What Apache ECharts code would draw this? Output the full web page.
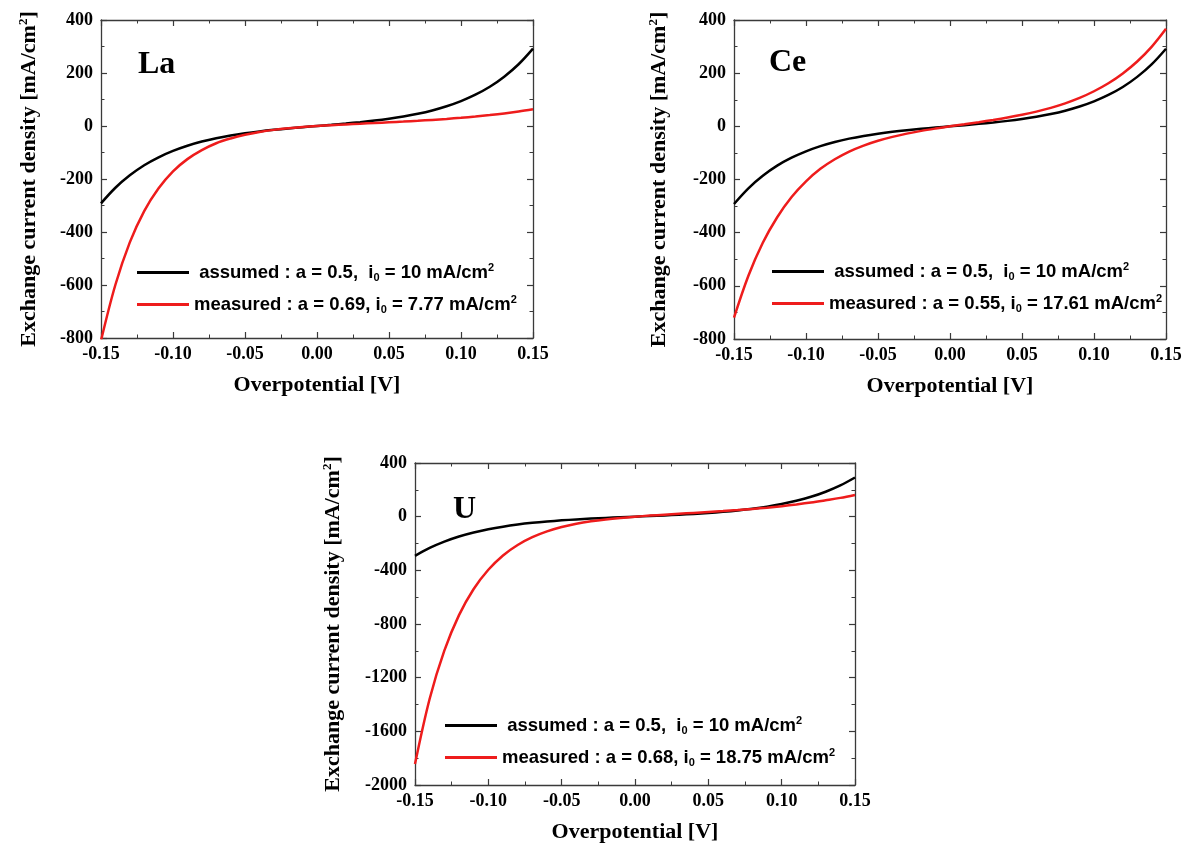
<!DOCTYPE html>
<html>
<head>
<meta charset="utf-8">
<script src="https://cdn.jsdelivr.net/npm/echarts@6/dist/echarts.min.js"></script>
<style>
html,body{margin:0;padding:0;background:#fff;}
#chart{width:1184px;height:847px;}
</style>
</head>
<body>
<div id="chart"></div>
<script>
// ---- data ----
const overpotential = [-0.15,-0.14,-0.13,-0.12,-0.11,-0.10,-0.09,-0.08,-0.07,-0.06,-0.05,-0.04,-0.03,-0.02,-0.01,0.00,0.01,0.02,0.03,0.04,0.05,0.06,0.07,0.08,0.09,0.10,0.11,0.12,0.13,0.14,0.15];
const assumedCurrent = [-292,-233,-186,-148,-118,-94,-74.5,-58.8,-46.2,-36,-27.6,-20.5,-14.5,-9.3,-4.5,0,4.5,9.3,14.5,20.5,27.6,36,46.2,58.8,74.5,94,118,148,186,233,292];
const laMeasured = [-810,-599,-439,-321,-235,-171,-125,-91,-65,-47,-33,-22.5,-14.6,-8.6,-3.8,0,3.2,6.1,8.7,11.3,14,16.7,19.7,23.1,26.8,31,35.8,41.3,47.5,54.7,62.9];
const ceMeasured = [-720,-562,-438,-342,-266,-207,-160,-124,-95,-72.5,-54.3,-39.6,-27.4,-17.1,-8.2,0,7.8,15.7,23.9,33,43.4,55.4,69.6,86.6,107,132,162,199,244,299,367];
const uMeasured = [-1844,-1357,-999,-734,-539,-396,-289,-211,-153,-110,-77.5,-53.2,-34.8,-20.5,-9.2,0,7.8,14.8,21.4,27.8,34.5,41.5,49.2,57.7,67.3,78.3,90.8,105,122,140,162];

const panelNames = ['La', 'Ce', 'U'];
const assumedLabel = [' assumed : a = 0.5,  i', '0', ' = 10 mA/cm', '2'];
const measuredLabels = [
  ['measured : a = 0.69, i', '0', ' = 7.77 mA/cm', '2'],
  ['measured : a = 0.55, i', '0', ' = 17.61 mA/cm', '2'],
  ['measured : a = 0.68, i', '0', ' = 18.75 mA/cm', '2']
];
const measuredSeries = [laMeasured, ceMeasured, uMeasured];
const yRanges = [[-800, 400, 200], [-800, 400, 200], [-2000, 400, 400]];
const xRange = [-0.15, 0.15, 0.05];
const xTitle = 'Overpotential [V]';
const yTitle = ['Exchange current density [mA/cm', '2', ']'];

// ---- layout ----
const grids = [
  {left: 101, top: 20, width: 432, height: 318},
  {left: 734, top: 20, width: 432, height: 319},
  {left: 415, top: 463, width: 440, height: 322}
];
const yNameGaps = [60, 63, 70];
const legendPos = [
  {left: 132, top: 257},
  {left: 767, top: 256},
  {left: 440, top: 710}
];
const titlePos = [
  {left: 133, top: 44},
  {left: 764, top: 42},
  {left: 448, top: 489}
];

const serif = '"Liberation Serif", "Times New Roman", serif';
const sans = '"Liberation Sans", Arial, sans-serif';
const axisColor = '#3a3a3a';
const RED = '#ee1c1c';

function richLabel(parts) {
  return '{t|' + parts[0] + '}{sub|' + parts[1] + '}{t|' + parts[2] + '}{sup|' + parts[3] + '}';
}
const legendRich = {
  t: {fontFamily: sans, fontWeight: 'bold', fontSize: 18.5, color: '#000', lineHeight: 20},
  sub: {fontFamily: sans, fontWeight: 'bold', fontSize: 11, color: '#000', padding: [10, 0, 0, 0], lineHeight: 20},
  sup: {fontFamily: sans, fontWeight: 'bold', fontSize: 11, color: '#000', padding: [0, 0, 10, 0], lineHeight: 20}
};

const option = {
  backgroundColor: '#fff',
  animation: false,
  title: [], grid: [], xAxis: [], yAxis: [], series: [], legend: []
};

const labelMap = {};

for (let i = 0; i < 3; i++) {
  const g = grids[i];
  option.grid.push(Object.assign({containLabel: false, outerBoundsMode: 'none'}, g));
  option.title.push({
    text: panelNames[i],
    left: titlePos[i].left, top: titlePos[i].top,
    textStyle: {fontFamily: serif, fontWeight: 'bold', fontSize: 32, color: '#000'}
  });
  const xBase = {
    type: 'value', gridIndex: i,
    min: xRange[0], max: xRange[1], interval: xRange[2],
    splitLine: {show: false},
    axisLine: {show: true, onZero: false, lineStyle: {color: axisColor, width: 1.3}},
    axisTick: {show: true, inside: true, length: 6, lineStyle: {color: axisColor, width: 1.2}},
    minorTick: {show: true, splitNumber: 2, length: 3.5, lineStyle: {color: axisColor, width: 1}},
    minorSplitLine: {show: false}
  };
  option.xAxis.push(Object.assign({}, xBase, {
    position: 'bottom',
    name: xTitle, nameLocation: 'middle', nameGap: 36,
    nameTextStyle: {fontFamily: serif, fontWeight: 'bold', fontSize: 22, color: '#000'},
    axisLabel: {show: true, margin: 7, fontFamily: serif, fontWeight: 'bold', fontSize: 18, color: '#000',
      formatter: v => v.toFixed(2)}
  }));
  option.xAxis.push(Object.assign({}, xBase, {position: 'top', axisLabel: {show: false}}));
  const yr = yRanges[i];
  const yBase = {
    type: 'value', gridIndex: i,
    min: yr[0], max: yr[1], interval: yr[2],
    splitLine: {show: false},
    axisLine: {show: true, onZero: false, lineStyle: {color: axisColor, width: 1.3}},
    axisTick: {show: true, inside: true, length: 6, lineStyle: {color: axisColor, width: 1.2}},
    minorTick: {show: true, splitNumber: 2, length: 3.5, lineStyle: {color: axisColor, width: 1}},
    minorSplitLine: {show: false}
  };
  option.yAxis.push(Object.assign({}, yBase, {
    position: 'left',
    name: '{a|' + yTitle[0] + '}{s|' + yTitle[1] + '}{a|' + yTitle[2] + '}',
    nameLocation: 'middle', nameGap: yNameGaps[i], nameRotate: 90,
    nameTextStyle: {
      rich: {
        a: {fontFamily: serif, fontWeight: 'bold', fontSize: 22, color: '#000', lineHeight: 24},
        s: {fontFamily: serif, fontWeight: 'bold', fontSize: 13, color: '#000', padding: [0, 0, 10, 0], lineHeight: 24}
      }
    },
    axisLabel: {show: true, margin: 8, fontFamily: serif, fontWeight: 'bold', fontSize: 18, color: '#000',
      formatter: v => String(v)}
  }));
  option.yAxis.push(Object.assign({}, yBase, {position: 'right', axisLabel: {show: false}}));

  const aName = panelNames[i] + ' assumed';
  const mName = panelNames[i] + ' measured';
  labelMap[aName] = richLabel(assumedLabel);
  labelMap[mName] = richLabel(measuredLabels[i]);

  option.series.push({
    name: aName, type: 'line', xAxisIndex: 2 * i, yAxisIndex: 2 * i,
    data: overpotential.map((x, k) => [x, assumedCurrent[k]]),
    showSymbol: false, symbol: 'none', smooth: 0.35, clip: true,
    lineStyle: {color: '#000', width: 2.5}, itemStyle: {color: '#000'}
  });
  option.series.push({
    name: mName, type: 'line', xAxisIndex: 2 * i, yAxisIndex: 2 * i,
    data: overpotential.map((x, k) => [x, measuredSeries[i][k]]),
    showSymbol: false, symbol: 'none', smooth: 0.35, clip: true,
    lineStyle: {color: RED, width: 2.5}, itemStyle: {color: RED}
  });
  option.legend.push({
    data: [aName, mName],
    orient: 'vertical',
    left: legendPos[i].left, top: legendPos[i].top,
    itemWidth: 52, itemHeight: 14, itemGap: 11,
    icon: 'path://M0,6 L52,6 L52,9 L0,9 Z',
    textStyle: {rich: legendRich},
    formatter: name => labelMap[name],
    selectedMode: false
  });
}

const chart = echarts.init(document.getElementById('chart'), null, {renderer: 'canvas'});
chart.setOption(option);
</script>
</body>
</html>
